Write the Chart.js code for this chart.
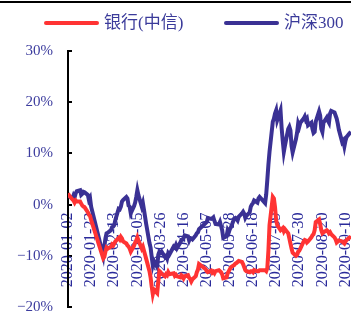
<!DOCTYPE html>
<html>
<head>
<meta charset="utf-8">
<script src="https://cdn.jsdelivr.net/npm/chart.js@4.4.0/dist/chart.umd.min.js"></script>
<style>
  html, body { margin: 0; padding: 0; background: #fff; }
</style>
</head>
<body>
<canvas id="chart" width="351" height="314"></canvas>
<script>
const dates = [
  '2020-01-02','2020-01-03','2020-01-06','2020-01-07','2020-01-08','2020-01-09','2020-01-10',
  '2020-01-13','2020-01-14','2020-01-15','2020-01-16','2020-01-17',
  '2020-01-20','2020-01-21','2020-01-22','2020-01-23',
  '2020-02-03','2020-02-04','2020-02-05','2020-02-06','2020-02-07',
  '2020-02-10','2020-02-11','2020-02-12','2020-02-13','2020-02-14',
  '2020-02-17','2020-02-18','2020-02-19','2020-02-20','2020-02-21',
  '2020-02-24','2020-02-25','2020-02-26','2020-02-27','2020-02-28',
  '2020-03-02','2020-03-03','2020-03-04','2020-03-05','2020-03-06',
  '2020-03-09','2020-03-10','2020-03-11','2020-03-12','2020-03-13',
  '2020-03-16','2020-03-17','2020-03-18','2020-03-19','2020-03-20',
  '2020-03-23','2020-03-24','2020-03-25','2020-03-26','2020-03-27',
  '2020-03-30','2020-03-31','2020-04-01','2020-04-02','2020-04-03',
  '2020-04-07','2020-04-08','2020-04-09','2020-04-10',
  '2020-04-13','2020-04-14','2020-04-15','2020-04-16','2020-04-17',
  '2020-04-20','2020-04-21','2020-04-22','2020-04-23','2020-04-24',
  '2020-04-27','2020-04-28','2020-04-29','2020-04-30',
  '2020-05-06','2020-05-07','2020-05-08',
  '2020-05-11','2020-05-12','2020-05-13','2020-05-14','2020-05-15',
  '2020-05-18','2020-05-19','2020-05-20','2020-05-21','2020-05-22',
  '2020-05-25','2020-05-26','2020-05-27','2020-05-28','2020-05-29',
  '2020-06-01','2020-06-02','2020-06-03','2020-06-04','2020-06-05',
  '2020-06-08','2020-06-09','2020-06-10','2020-06-11','2020-06-12',
  '2020-06-15','2020-06-16','2020-06-17','2020-06-18','2020-06-19',
  '2020-06-22','2020-06-23','2020-06-24','2020-06-29','2020-06-30',
  '2020-07-01','2020-07-02','2020-07-03',
  '2020-07-06','2020-07-07','2020-07-08','2020-07-09','2020-07-10',
  '2020-07-13','2020-07-14','2020-07-15','2020-07-16','2020-07-17',
  '2020-07-20','2020-07-21','2020-07-22','2020-07-23','2020-07-24',
  '2020-07-27','2020-07-28','2020-07-29','2020-07-30','2020-07-31',
  '2020-08-03','2020-08-04','2020-08-05','2020-08-06','2020-08-07',
  '2020-08-10','2020-08-11','2020-08-12','2020-08-13','2020-08-14',
  '2020-08-17','2020-08-18','2020-08-19','2020-08-20','2020-08-21',
  '2020-08-24','2020-08-25','2020-08-26','2020-08-27','2020-08-28',
  '2020-08-31','2020-09-01','2020-09-02','2020-09-03','2020-09-04',
  '2020-09-07','2020-09-08','2020-09-09','2020-09-10','2020-09-11',
  '2020-09-14','2020-09-15','2020-09-16','2020-09-17'
];

// 银行(中信), cumulative return in %
const bank = [
  2.2, 1.8, 1.0, 0.8, 0.4, 0.8, 0.6,
  0.6, 0.2, -0.2, -0.4, -0.5,
  -1.5, -2.0, -2.2, -3.0,
  -10.5, -10.2, -9.2, -8.4, -8.6,
  -8.2, -7.8, -8.0, -7.6, -7.2,
  -6.5, -6.8, -6.3, -6.6, -7.2,
  -7.6, -8.0, -8.2, -8.6, -9.2,
  -8.0, -7.4, -7.0, -6.4, -7.0,
  -8.6, -8.2, -9.0, -9.8, -10.6,
  -13.0, -14.2, -16.0, -17.5, -16.6,
  -17.3, -15.0, -13.0, -13.2, -13.5,
  -14.0, -13.6, -13.8, -13.2, -13.6,
  -13.4, -13.9, -13.7, -14.0,
  -14.2, -13.8, -14.0, -14.4, -14.0,
  -13.8, -14.3, -14.5, -15.0, -14.6,
  -14.0, -13.2, -12.7, -11.6,
  -12.6, -13.0, -13.2,
  -12.9, -13.3, -13.1, -13.4, -13.0,
  -12.8, -13.0, -13.2, -13.6, -14.4,
  -14.2, -13.4, -13.0, -12.6, -12.2,
  -11.8, -11.5, -11.4, -11.2, -11.0,
  -11.2, -11.6, -12.2, -12.8, -13.0,
  -13.2, -13.0, -13.0, -13.2, -12.8,
  -13.0, -13.0, -12.8, -12.8, -13.0,
  -12.4, -9.0, -4.0,
  1.5, 1.2, -0.5, -3.0, -4.0,
  -5.0, -4.8, -4.6, -5.2, -4.8,
  -5.6, -6.6, -7.6, -8.6, -9.4,
  -10.0, -9.8, -9.2, -9.0, -8.6,
  -7.2, -6.9, -7.0, -7.4, -7.2,
  -6.4, -6.0, -5.8, -5.0, -3.4,
  -2.9, -3.8, -5.0, -5.6, -5.4,
  -5.0, -5.2, -5.6, -5.4, -5.8,
  -6.4, -6.8, -7.4, -7.2, -7.0,
  -7.2, -7.4, -7.6, -7.2, -6.9,
  -6.4, -6.2, -6.5, -6.8
];

// 沪深300, cumulative return in %
const hs300 = [
  1.9, 1.6, 1.2, 1.8, 1.4, 2.2, 2.6,
  2.8, 1.9, 2.1, 2.5, 2.4,
  1.9, 0.9, 1.3, -0.4,
  -10.0, -8.2, -6.6, -5.6, -5.5,
  -5.0, -4.4, -4.3, -4.0, -3.0,
  -0.8, -0.9, -0.4, 0.6, 0.9,
  1.5, 1.2, -0.2, -0.4, -1.7,
  -0.3, 0.4, 1.5, 2.8, 1.8,
  -0.4, 0.3, -1.0, -2.4, -3.8,
  -7.5, -8.4, -10.2, -11.8, -11.0,
  -12.2, -9.8, -9.2, -9.4, -9.2,
  -10.2, -10.0, -10.5, -9.5, -9.8,
  -8.2, -8.4, -7.9, -8.5,
  -7.4, -6.9, -6.8, -6.5, -6.0,
  -6.2, -7.0, -6.5, -6.6, -6.8,
  -6.0, -5.6, -5.4, -4.8,
  -3.6, -3.4, -2.6,
  -2.8, -2.7, -2.5, -3.2, -3.8,
  -3.9, -3.4, -4.2, -5.0, -6.5,
  -6.2, -5.0, -5.4, -4.8, -4.4,
  -2.7, -2.6, -2.8, -3.1, -2.4,
  -1.7, -1.4, -1.8, -2.6, -2.2,
  -1.5, -0.4, 0.0, 0.3, 0.8,
  0.4, 1.2, 1.5, 0.3, 2.0,
  4.8, 7.8, 10.3,
  16.2, 16.8, 17.8, 18.4, 16.5,
  18.4, 15.0, 12.5, 10.3, 11.5,
  14.8, 15.2, 14.5, 11.5, 10.2,
  12.8, 14.0, 15.8, 15.2, 16.0,
  16.8, 17.2, 16.5, 16.8, 15.5,
  16.0, 14.8, 14.0, 14.2, 16.2,
  18.2, 17.4, 14.8, 14.2, 16.0,
  17.0, 16.4, 16.0, 17.8, 18.3,
  18.0, 17.4, 16.8, 15.8, 14.6,
  12.2, 12.5, 11.4, 12.5, 13.2,
  14.0, 14.2, 13.6, 13.0
];

const seriesNames = ['银行(中信)', '沪深300'];
const xTickDates = [
  '2020-01-02', '2020-01-23', '2020-02-13', '2020-03-05', '2020-03-26', '2020-04-16', '2020-05-07',
  '2020-05-28', '2020-06-18', '2020-07-09', '2020-07-30', '2020-08-20', '2020-09-10'
];
const yTicks = [-20, -10, 0, 10, 20, 30];
const startDate = '2020-01-02';
const lastDay = 257;

const DAY = 86400000;
const t0 = Date.parse(startDate);
const dayOf = s => Math.round((Date.parse(s) - t0) / DAY);
const dateLabel = v => new Date(t0 + v * DAY).toISOString().slice(0, 10);
const pct = v => (v < 0 ? '\u2212' : '') + Math.abs(v) + '%';

const FONT = '"Liberation Serif", "Noto Sans CJK SC", serif';

// legend drawn by hand so spacing matches the original, plus the thin frame line at top
const legendX = [46, 226];
const legendLines = {
  id: 'legendLines',
  afterDraw(chart) {
    const ctx = chart.ctx;
    ctx.save();
    ctx.fillStyle = '#000';
    ctx.fillRect(0, 1, chart.width, 2);
    ctx.font = '17px ' + FONT;
    ctx.textBaseline = 'middle';
    const y = 23;
    chart.data.datasets.forEach((ds, i) => {
      const x = legendX[i];
      ctx.strokeStyle = ds.borderColor;
      ctx.lineWidth = 4;
      ctx.lineCap = 'round';
      ctx.beginPath();
      ctx.moveTo(x, y);
      ctx.lineTo(x + 51, y);
      ctx.stroke();
      ctx.fillStyle = '#3a3a9a';
      ctx.fillText(ds.label, x + 58, y + 1);
    });
    ctx.restore();
  }
};

new Chart(document.getElementById('chart'), {
  type: 'line',
  data: {
    datasets: [
      {
        label: seriesNames[0],
        data: bank.map((v, i) => ({ x: dayOf(dates[i]), y: v })),
        borderColor: '#ff3333',
        borderWidth: 4,
        pointRadius: 0,
        fill: false
      },
      {
        label: seriesNames[1],
        data: hs300.map((v, i) => ({ x: dayOf(dates[i]), y: v })),
        borderColor: '#3a3194',
        borderWidth: 4,
        pointRadius: 0,
        fill: false
      }
    ]
  },
  options: {
    responsive: false,
    animation: false,
    layout: { padding: { left: 0, top: 51, right: 0, bottom: 7 } },
    plugins: {
      legend: { display: false },
      tooltip: { enabled: false }
    },
    scales: {
      x: {
        type: 'linear',
        position: { y: 0 },
        min: 0,
        max: lastDay,
        grid: { display: false, drawTicks: false },
        border: { display: false },
        ticks: {
          autoSkip: false,
          minRotation: 90,
          maxRotation: 90,
          padding: 8,
          color: '#2a2a9a',
          font: { family: FONT, size: 16 },
          callback: v => dateLabel(v)
        },
        afterBuildTicks: s => { s.ticks = xTickDates.map(d => ({ value: dayOf(d) })); },
        afterFit: s => { s.height = 0; s.paddingLeft = 0; s.paddingRight = 0; }
      },
      y: {
        min: -20,
        max: 30,
        grid: { drawOnChartArea: false, tickLength: -4, color: '#000', lineWidth: 2 },
        border: { color: '#000', width: 2 },
        ticks: {
          padding: 19,
          color: '#3c3c9e',
          font: { family: FONT, size: 15 },
          callback: v => pct(v)
        },
        afterBuildTicks: s => { s.ticks = yTicks.map(v => ({ value: v })); },
        afterFit: s => { s.width = 68; s.paddingTop = 0; s.paddingBottom = 0; }
      }
    }
  },
  plugins: [legendLines]
});
</script>
</body>
</html>
